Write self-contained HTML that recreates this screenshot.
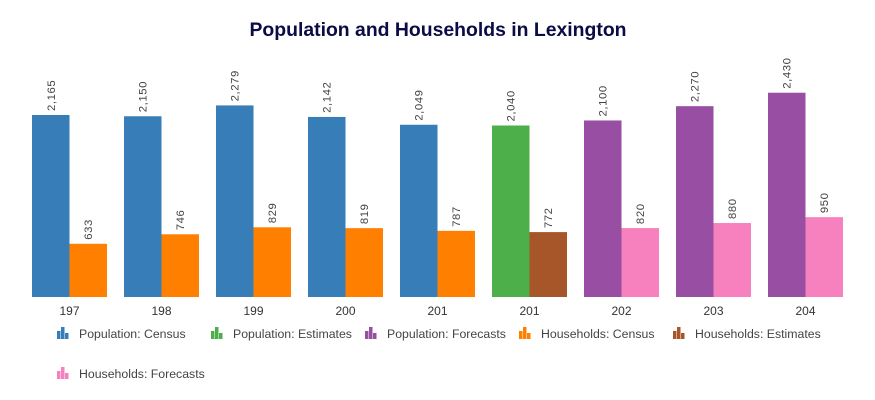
<!DOCTYPE html>
<html><head><meta charset="utf-8"><style>
body{margin:0;background:#fff;font-family:"Liberation Sans",Arial,sans-serif;}
svg{display:block}
</style></head><body>
<svg id="chart" width="875" height="400" xmlns="http://www.w3.org/2000/svg">
<text x="438" y="36" text-anchor="middle" font-size="19.4" font-weight="bold" fill="#0b0b45">Population and Households in Lexington</text>
</svg>
<script>
const categories=["197","198","199","200","201","201","202","203","204"];
const population=[2165,2150,2279,2142,2049,2040,2100,2270,2430];
const households=[633,746,829,819,787,772,820,880,950];
const popColors=["#377eb8","#377eb8","#377eb8","#377eb8","#377eb8","#4daf4a","#984ea3","#984ea3","#984ea3"];
const hhColors=["#ff7f00","#ff7f00","#ff7f00","#ff7f00","#ff7f00","#a65628","#f781bf","#f781bf","#f781bf"];
const legendLabels=["Population: Census","Population: Estimates","Population: Forecasts","Households: Census","Households: Estimates","Households: Forecasts"];
const legendColors=["#377eb8","#4daf4a","#984ea3","#ff7f00","#a65628","#f781bf"];
const NS="http://www.w3.org/2000/svg";
const svg=document.getElementById('chart');
const base=297, scale=182/2165, x0=32, step=92, bw=37.5;
function y(v){return base-v*scale;}
function mk(t,a){const e=document.createElementNS(NS,t);for(const k in a)e.setAttribute(k,a[k]);svg.appendChild(e);return e;}
function fmt(v){return v.toLocaleString('en-US');}
categories.forEach((c,i)=>{
  const gx=x0+i*step;
  [[population[i],popColors[i],gx,'population'],[households[i],hhColors[i],gx+bw,'households']].forEach(([v,col,bx,s])=>{
    const r=mk('rect',{x:bx,y:y(v),width:bw,height:v*scale,fill:col});
    
    
    const lx=bx+bw/2+4, ly=y(v)-4;
    const t=mk('text',{x:lx,y:ly,transform:`rotate(-90 ${lx} ${ly})`,'font-size':11.3,fill:'#444','letter-spacing':'0.6'});
    t.textContent=fmt(v);
    
    
  });
  const tl=mk('text',{x:gx+bw,y:315,'text-anchor':'middle','font-size':12,fill:'#333'});
  tl.textContent=c;
  
  
});
legendLabels.forEach((l,i)=>{
  const lx=57+(i%5)*154, ly=i<5?338:378;
  const g=document.createElementNS(NS,'g');svg.appendChild(g);
  
  
  [[0,4,4,8],[4,0,4,12],[8,6,4,6]].forEach(([dx,dy,w,h])=>{
    const r=document.createElementNS(NS,'rect');
    r.setAttribute('x',lx+dx);r.setAttribute('y',ly-11+dy);r.setAttribute('width',w-0.5);r.setAttribute('height',h);r.setAttribute('fill',legendColors[i]);
    g.appendChild(r);
  });
  const t=document.createElementNS(NS,'text');
  t.setAttribute('x',lx+22);t.setAttribute('y',ly);t.setAttribute('font-size',12.3);t.setAttribute('fill','#444');
  t.textContent=l;g.appendChild(t);
});
</script>
</body></html>
